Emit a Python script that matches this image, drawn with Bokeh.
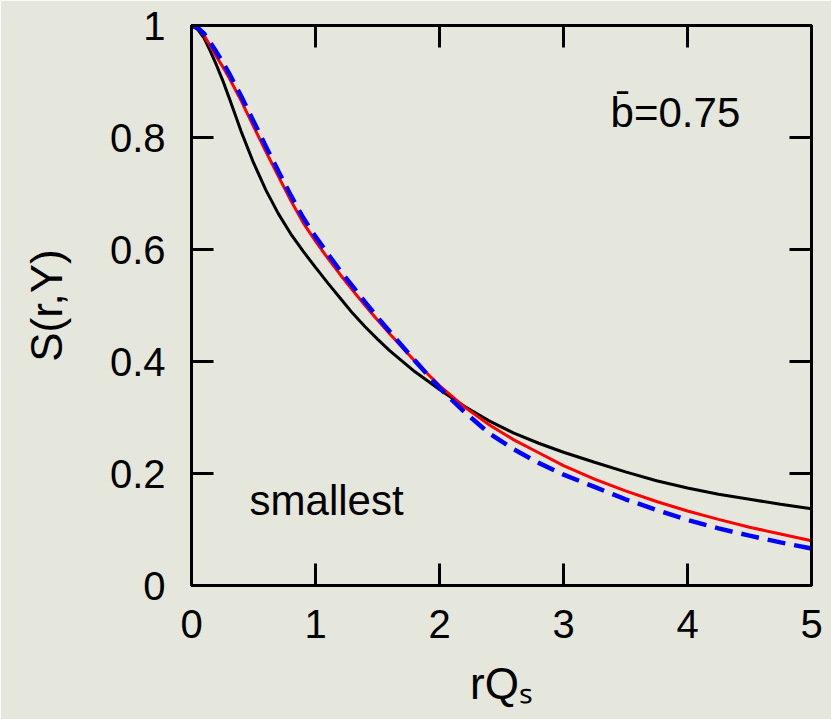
from bokeh.plotting import figure
from bokeh.models import LinearAxis, FixedTicker, Label, Range1d
from bokeh.embed import file_html
from bokeh.resources import INLINE

# data
x = [0, 0.05, 0.1, 0.15, 0.2, 0.25, 0.3, 0.4, 0.5, 0.6, 0.7, 0.8, 0.9, 1.0, 1.1, 1.2, 1.3, 1.4, 1.5, 1.6,
     1.8, 2.0, 2.2, 2.4, 2.6, 2.8, 3.0, 3.25, 3.5, 3.75, 4.0, 4.25, 4.5, 4.75, 5.0]
black = [1.0, 0.993, 0.978, 0.955, 0.930, 0.903, 0.873, 0.811, 0.755, 0.706, 0.664, 0.628, 0.597, 0.568,
         0.540, 0.513, 0.486, 0.462, 0.440, 0.419, 0.382, 0.350, 0.320, 0.294, 0.272, 0.254, 0.238,
         0.220, 0.203, 0.187, 0.174, 0.163, 0.154, 0.145, 0.137]
red = [1.0, 0.995, 0.983, 0.964, 0.945, 0.927, 0.908, 0.866, 0.820, 0.775, 0.731, 0.688, 0.648, 0.615,
       0.584, 0.555, 0.527, 0.500, 0.474, 0.449, 0.401, 0.357, 0.319, 0.287, 0.260, 0.237, 0.214,
       0.190, 0.169, 0.150, 0.133, 0.118, 0.104, 0.092, 0.080]
blue = [1.0, 0.996, 0.986, 0.970, 0.953, 0.935, 0.916, 0.874, 0.829, 0.784, 0.740, 0.697, 0.657, 0.623,
        0.592, 0.562, 0.534, 0.506, 0.479, 0.453, 0.402, 0.353, 0.310, 0.272, 0.243, 0.219, 0.198,
        0.176, 0.154, 0.135, 0.117, 0.102, 0.089, 0.077, 0.066]

x_ticks = [0, 1, 2, 3, 4, 5]
y_ticks = [0.0, 0.2, 0.4, 0.6, 0.8, 1.0]
y_tick_labels = ["0", "0.2", "0.4", "0.6", "0.8", "1"]

BG = "#e6e7dc"
FONT = "Liberation Sans"

p = figure(width=831, height=719, output_backend="svg", toolbar_location=None,
           x_range=Range1d(0, 5), y_range=Range1d(0, 1),
           min_border_left=191, min_border_right=20, min_border_top=25, min_border_bottom=134)
p.background_fill_color = BG
p.border_fill_color = BG
p.outline_line_color = "black"
p.outline_line_width = 3
p.grid.visible = False

p.line(x, black, line_color="black", line_width=3)
p.line(x, red, line_color="#ff0000", line_width=3)
p.line(x, blue, line_color="#0000ff", line_width=4.5, line_dash="18 9")

def style(ax, ticks, labels=True):
    ax.ticker = FixedTicker(ticks=ticks)
    ax.minor_tick_line_color = None
    ax.major_tick_in = 22
    ax.major_tick_out = 0
    ax.major_tick_line_width = 3
    ax.major_tick_line_color = "black"
    ax.axis_line_width = 3
    ax.axis_line_color = "black"
    if labels:
        ax.major_label_text_font = FONT
        ax.major_label_text_font_size = "40px"
        ax.major_label_text_color = "black"
        ax.axis_label_text_font = FONT
        ax.axis_label_text_font_size = "44px"
        ax.axis_label_text_font_style = "normal"
        ax.axis_label_text_color = "black"
    else:
        ax.major_label_text_font_size = "8px"
        ax.major_label_text_color = None
        ax.major_label_standoff = 0

xa = p.xaxis[0]
ya = p.yaxis[0]
style(xa, x_ticks)
style(ya, y_ticks)
ya.major_label_overrides = {t: l for t, l in zip(y_ticks, y_tick_labels)}
xa.major_label_standoff = 24
ya.major_label_standoff = 26
xa.axis_label = "rQ\u209b"
ya.axis_label = "S(r,Y)"
xa.axis_label_standoff = 18
ya.axis_label_standoff = 36

ra = LinearAxis()
ta = LinearAxis()
style(ra, y_ticks, labels=False)
style(ta, x_ticks, labels=False)
p.add_layout(ra, "right")
p.add_layout(ta, "above")

p.add_layout(Label(x=3.38, y=0.845, text="b\u0304=0.75", text_font=FONT,
                   text_font_size="42px", text_color="black", text_baseline="alphabetic"))
p.add_layout(Label(x=0.468, y=0.152, text="smallest", text_font=FONT,
                   text_font_size="42px", text_color="black", text_baseline="alphabetic"))

open("out.html", "w").write(file_html(p, INLINE))
